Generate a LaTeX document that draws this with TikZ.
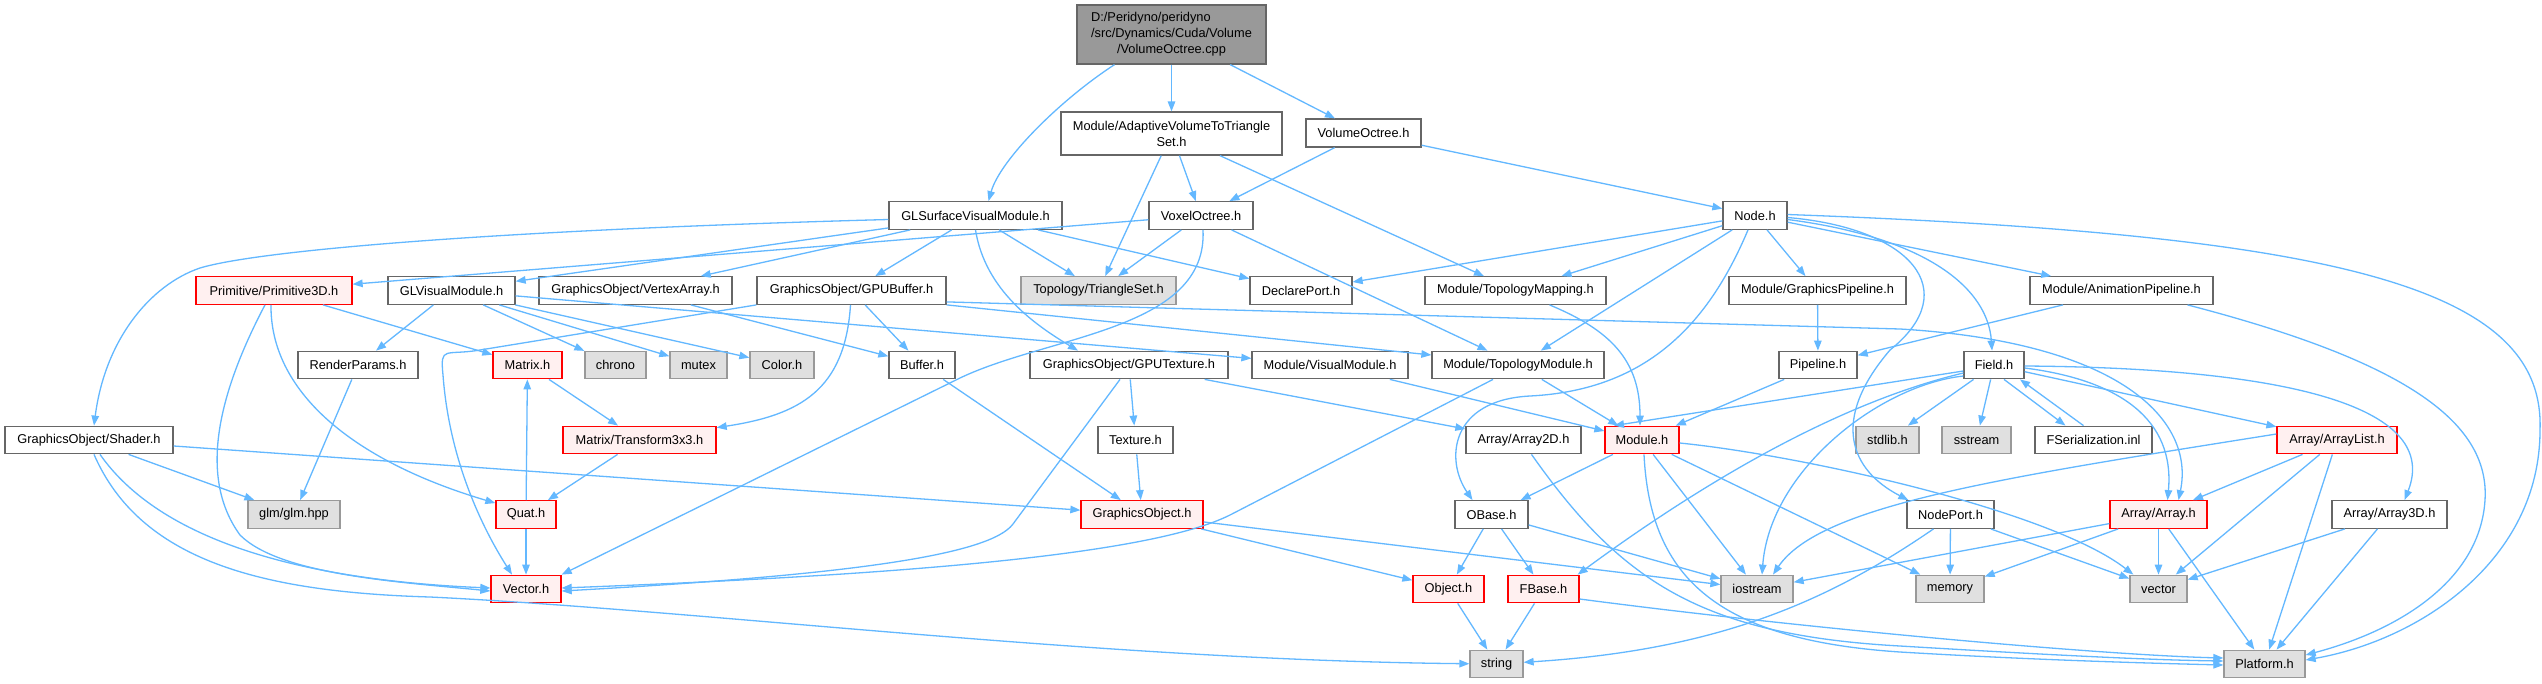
\documentclass[tikz,border=0pt]{standalone}
\usepackage{fontspec}
\setmainfont{Liberation Sans}
\usetikzlibrary{arrows.meta}
\definecolor{edgec}{HTML}{63B8FF}
\definecolor{bord}{HTML}{666666}
\definecolor{extb}{HTML}{999999}
\definecolor{extf}{HTML}{E0E0E0}
\definecolor{redf}{HTML}{FFF0F0}
\definecolor{redb}{HTML}{FF0000}
\definecolor{rootf}{HTML}{999999}
\begin{document}
\begin{tikzpicture}[x=1pt,y=-1pt,
  base/.style={rectangle, inner sep=0pt, line width=1.3pt, minimum height=27.5pt, text=black, font=\fontsize{12.8}{16}\selectfont},
  nw/.style={base, draw=bord, fill=white},
  ng/.style={base, draw=extb, fill=extf},
  nr/.style={base, draw=redb, fill=redf},
  nroot/.style={base, draw=bord, fill=rootf},
  e/.style={draw=edgec, line width=1.3pt, -{Triangle[length=10pt,width=7.5pt]}}]
\fill[white] (0,0) rectangle (2542,683);
\useasboundingbox (0,0) rectangle (2542,683);
% row 0
\node[nroot, minimum width=189pt, minimum height=59pt] (root) at (1171.5,34.5) {\begin{tabular}{@{}l@{}}D:/Peridyno/peridyno\\/src/Dynamics/Cuda/Volume\\\multicolumn{1}{@{}c@{}}{/VolumeOctree.cpp}\end{tabular}};
% row 1
\node[nw, minimum width=221pt, minimum height=43pt, align=center] (adaptive) at (1171.5,133.5) {Module/AdaptiveVolumeToTriangle\\Set.h};
\node[nw, minimum width=115pt, minimum height=28pt] (volh) at (1363.5,133) {VolumeOctree.h};
% row 2
\node[nw, minimum width=173pt] (glsurf) at (975.5,215.5) {GLSurfaceVisualModule.h};
\node[nw, minimum width=104pt] (voxel) at (1201,215.5) {VoxelOctree.h};
\node[nw, minimum width=64pt] (node) at (1755,215.5) {Node.h};
% row 3
\node[nr, minimum width=156pt] (prim3d) at (274,290.5) {Primitive/Primitive3D.h};
\node[nw, minimum width=127pt] (glvis) at (451.5,290.5) {GLVisualModule.h};
\node[nw, minimum width=193pt] (vertex) at (635.5,290.5) {GraphicsObject/VertexArray.h};
\node[nw, minimum width=189pt] (gpubuf) at (851.5,290.5) {GraphicsObject/GPUBuffer.h};
\node[ng, minimum width=155pt] (triset) at (1098.5,290.5) {Topology/TriangleSet.h};
\node[nw, minimum width=102pt] (declport) at (1301,290.5) {DeclarePort.h};
\node[nw, minimum width=181pt] (topomap) at (1515.5,290.5) {Module/TopologyMapping.h};
\node[nw, minimum width=177pt] (gfxpipe) at (1817.5,290.5) {Module/GraphicsPipeline.h};
\node[nw, minimum width=183pt] (animpipe) at (2121.5,290.5) {Module/AnimationPipeline.h};
% row 4
\node[nw, minimum width=120pt] (renderp) at (358,365) {RenderParams.h};
\node[nr, minimum width=69pt] (matrix) at (527.5,365) {Matrix.h};
\node[ng, minimum width=61pt] (chrono) at (615.5,365) {chrono};
\node[ng, minimum width=57pt] (mutex) at (698.5,365) {mutex};
\node[ng, minimum width=64pt] (color) at (782,365) {Color.h};
\node[nw, minimum width=66pt] (buffer) at (922,365) {Buffer.h};
\node[nw, minimum width=198pt] (gputex) at (1129,365) {GraphicsObject/GPUTexture.h};
\node[nw, minimum width=156pt] (vismod) at (1330,365) {Module/VisualModule.h};
\node[nw, minimum width=172pt] (topomod) at (1518,365) {Module/TopologyModule.h};
\node[nw, minimum width=78pt] (pipeline) at (1818,365) {Pipeline.h};
\node[nw, minimum width=60pt] (field) at (1994,365) {Field.h};
% row 5
\node[nw, minimum width=168pt] (shader) at (89,440) {GraphicsObject/Shader.h};
\node[nr, minimum width=153pt] (transf) at (639.5,440) {Matrix/Transform3x3.h};
\node[nw, minimum width=75pt] (texture) at (1135.5,440) {Texture.h};
\node[nw, minimum width=115pt] (array2d) at (1523.5,440) {Array/Array2D.h};
\node[nr, minimum width=74pt] (module) at (1642,440) {Module.h};
\node[ng, minimum width=63pt] (stdlib) at (1887.5,440) {stdlib.h};
\node[ng, minimum width=69pt] (sstream) at (1976.5,440) {sstream};
\node[nw, minimum width=117pt] (fser) at (2093.5,440) {FSerialization.inl};
\node[nr, minimum width=120pt] (arraylist) at (2337,440) {Array/ArrayList.h};
% row 6
\node[ng, minimum width=92pt] (glm) at (294,514.5) {glm/glm.hpp};
\node[nr, minimum width=60pt] (quat) at (526,514.5) {Quat.h};
\node[nr, minimum width=122pt] (gfxobj) at (1142,514.5) {GraphicsObject.h};
\node[nw, minimum width=73pt] (obase) at (1491.5,514.5) {OBase.h};
\node[nw, minimum width=87pt] (nodeport) at (1950.5,514.5) {NodePort.h};
\node[nr, minimum width=97pt] (array) at (2158.5,514.5) {Array/Array.h};
\node[nw, minimum width=115pt] (array3d) at (2389.5,514.5) {Array/Array3D.h};
% row 7
\node[nr, minimum width=70pt] (vector_h) at (526,589) {Vector.h};
\node[nr, minimum width=71pt] (object) at (1448.5,589) {Object.h};
\node[nr, minimum width=71pt] (fbase) at (1543.5,589) {FBase.h};
\node[ng, minimum width=72pt] (iostream) at (1757,589) {iostream};
\node[ng, minimum width=68pt] (memory) at (1950,589) {memory};
\node[ng, minimum width=57pt] (vectorstd) at (2158.5,589) {vector};
% row 8
\node[ng, minimum width=53pt] (string) at (1496.5,664) {string};
\node[ng, minimum width=81pt] (platform) at (2264.5,664) {Platform.h};

% ---- edges ----
\draw[e] ([xshift=-57pt]root.south) .. controls (1060,100) and (1000,160) .. ([xshift=13pt]glsurf.north);
\draw[e] (root) -- (adaptive);
\draw[e] (root) -- (volh);
\draw[e] (adaptive) -- (triset);
\draw[e] (adaptive) -- (voxel);
\draw[e] (adaptive) -- (topomap);
\draw[e] (volh) -- (voxel);
\draw[e] (volh) -- (node);
% GLSurfaceVisualModule
\draw[e] ([yshift=-4pt]glsurf.west) .. controls (500,230) and (260,250) .. (200,268) .. controls (150,285) and (105,340) .. ([xshift=5pt]shader.north);
\draw[e] (glsurf) -- (glvis);
\draw[e] (glsurf) -- (vertex);
\draw[e] (glsurf) -- (gpubuf);
\draw[e] (glsurf.south) .. controls (985,290) and (1035,325) .. ([xshift=-51pt]gputex.north);
\draw[e] (glsurf) -- (triset);
\draw[e] (glsurf) -- (declport);
% VoxelOctree
\draw[e] (voxel) -- (prim3d);
\draw[e] (voxel) -- (triset);
\draw[e] ([xshift=2pt]voxel.south) .. controls (1208,330) and (1050,335) .. (960,378) -- (vector_h.north east);
\draw[e] (voxel) -- (topomod);
% Node
\draw[e] (node) -- (declport);
\draw[e] (node) -- (topomap);
\draw[e] (node) -- (topomod);
\draw[e] (node) -- (gfxpipe);
\draw[e] (node) -- (animpipe);
\draw[e] ([yshift=-4pt]node.east) .. controls (1930,238) and (1988,290) .. ([xshift=-2pt]field.north);
\draw[e] ([xshift=-7pt]node.south) .. controls (1710,320) and (1650,390) .. (1530,396) .. controls (1450,400) and (1445,460) .. ([xshift=-19pt]obase.north);
\draw[e] ([yshift=-2pt]node.east) .. controls (1910,228) and (1965,290) .. (1890,350) .. controls (1830,420) and (1850,470) .. ([xshift=2pt]nodeport.north west);
\draw[e] ([yshift=1pt]node.east) .. controls (2350,235) and (2545,290) .. (2540,430) .. controls (2540,560) and (2420,640) .. ([yshift=4pt]platform.east);
% Primitive3D
\draw[e] (prim3d) -- (matrix);
\draw[e] ([xshift=-3pt]prim3d.south) .. controls (270,390) and (350,460) .. ([yshift=-3pt]quat.north west);
\draw[e] ([xshift=-9pt]prim3d.south) .. controls (215,400) and (200,480) .. (240,535) .. controls (280,575) and (400,582) .. ([yshift=-2pt]vector_h.west);
% GLVisualModule
\draw[e] (glvis) -- (renderp);
\draw[e] (glvis) -- (chrono);
\draw[e] (glvis) -- (mutex);
\draw[e] (glvis) -- (color);
\draw[e] (glvis) -- (vismod);
% VertexArray, GPUBuffer
\draw[e] (vertex) -- (buffer);
\draw[e] (gpubuf) -- (buffer);
\draw[e] (gpubuf.south west) -- (480,350) .. controls (445,356) and (440,345) .. (443,375) .. controls (450,470) and (490,540) .. ([xshift=-14pt]vector_h.north);
\draw[e] ([xshift=-1pt]gpubuf.south) .. controls (845,390) and (800,415) .. ([yshift=-2pt]transf.north east);
\draw[e] ([yshift=3pt]gpubuf.south east) -- (1900,329) .. controls (2120,342) and (2195,420) .. ([xshift=20pt]array.north);
\draw[e] (gpubuf.south east) -- ([yshift=10pt]topomod.west);
% row 3 others
\draw[e] ([xshift=34pt]topomap.south) .. controls (1610,330) and (1640,360) .. ([xshift=-2pt]module.north);
\draw[e] (gfxpipe) -- (pipeline);
\draw[e] (animpipe) -- (pipeline);
\draw[e] ([xshift=66pt]animpipe.south) .. controls (2400,360) and (2490,420) .. (2485,500) .. controls (2480,580) and (2400,630) .. ([yshift=9pt]platform.east);
% row 4
\draw[e] (renderp) -- (glm);
\draw[e] (matrix) -- (transf);
\draw[e] (buffer) -- (gfxobj);
\draw[e] (gputex) -- (texture);
\draw[e] (gputex) -- (array2d);
\draw[e] ([xshift=-9pt]gputex.south) -- (1013,524) .. controls (990,555) and (850,575) .. ([yshift=-2pt]vector_h.east);
\draw[e] (vismod) -- (module);
\draw[e] (topomod) -- (module);
\draw[e] ([xshift=-25pt]topomod.south) -- (1230,515) .. controls (1150,555) and (900,575) .. ([yshift=1pt]vector_h.east);
\draw[e] (pipeline) -- (module);
\draw[e] ([yshift=-6pt]field.west) -- ([xshift=-28pt]module.north);
\draw[e] (field) -- (stdlib);
\draw[e] (field) -- (sstream);
\draw[e] ([xshift=10pt]field.south) -- ([xshift=-28pt]fser.north);
\draw[e] ([xshift=-10pt]fser.north) -- ([xshift=26pt]field.south);
\draw[e] (field) -- (arraylist);
\draw[e] ([yshift=-3pt]field.east) .. controls (2120,380) and (2175,420) .. ([xshift=9pt]array.north);
\draw[e] ([yshift=-1pt]field.east) .. controls (2300,368) and (2440,410) .. ([xshift=15pt]array3d.north);
\draw[e] ([yshift=-8pt]field.west) .. controls (1850,400) and (1720,470) .. ([xshift=-2pt]fbase.north east);
\draw[e] ([yshift=-11pt]field.west) .. controls (1880,385) and (1770,470) .. ([xshift=5pt]iostream.north);
% row 5
\draw[e] (shader) -- (glm);
\draw[e] (shader) -- (gfxobj);
\draw[e] ([xshift=11pt]shader.south) .. controls (160,540) and (300,580) .. ([yshift=1pt]vector_h.west);
\draw[e] ([xshift=5pt]shader.south) .. controls (140,560) and (260,592) .. (430,597) .. controls (700,610) and (1100,660) .. (string);
\draw[e] (transf) -- (quat);
\draw[e] (texture) -- (gfxobj);
\draw[e] (module) -- (obase);
\draw[e] (module) -- (iostream);
\draw[e] (module) -- (memory);
\draw[e] ([yshift=-3pt]module.east) .. controls (1800,455) and (2050,510) .. ([xshift=4pt]vectorstd.north west);
\draw[e] ([xshift=2pt]module.south) .. controls (1650,580) and (1720,640) .. (1900,652) .. controls (2000,658) and (2100,662) .. ([yshift=-1pt]platform.west);
\draw[e] ([xshift=8pt]array2d.south) .. controls (1620,580) and (1700,635) .. (1900,646) .. controls (2050,655) and (2150,660) .. ([yshift=3pt]platform.west);
\draw[e] ([yshift=6pt]arraylist.west) .. controls (2000,478) and (1820,505) .. ([xshift=16pt]iostream.north);
\draw[e] (arraylist) -- (array);
\draw[e] (arraylist) -- (vectorstd);
\draw[e] (arraylist) -- (platform);
% row 6
\draw[e] (quat) -- (matrix);
\draw[e] (quat) -- (vector_h);
\draw[e] (gfxobj) -- (object);
\draw[e] (gfxobj) -- (iostream);
\draw[e] (obase) -- (object);
\draw[e] (obase) -- (fbase);
\draw[e] (obase) -- (iostream);
\draw[e] (nodeport) -- (memory);
\draw[e] (nodeport) -- (vectorstd);
\draw[e] ([xshift=-17pt]nodeport.south) .. controls (1830,600) and (1720,650) .. (string);
\draw[e] (array) -- (iostream);
\draw[e] (array) -- (memory);
\draw[e] (array) -- (vectorstd);
\draw[e] (array) -- (platform);
\draw[e] (array3d) -- (vectorstd);
\draw[e] (array3d) -- (platform);
% row 7
\draw[e] (object) -- (string);
\draw[e] (fbase) -- (string);
\draw[e] ([yshift=-10pt]fbase.east) .. controls (1800,628) and (2100,655) .. ([yshift=6pt]platform.west);
\end{tikzpicture}
\end{document}
